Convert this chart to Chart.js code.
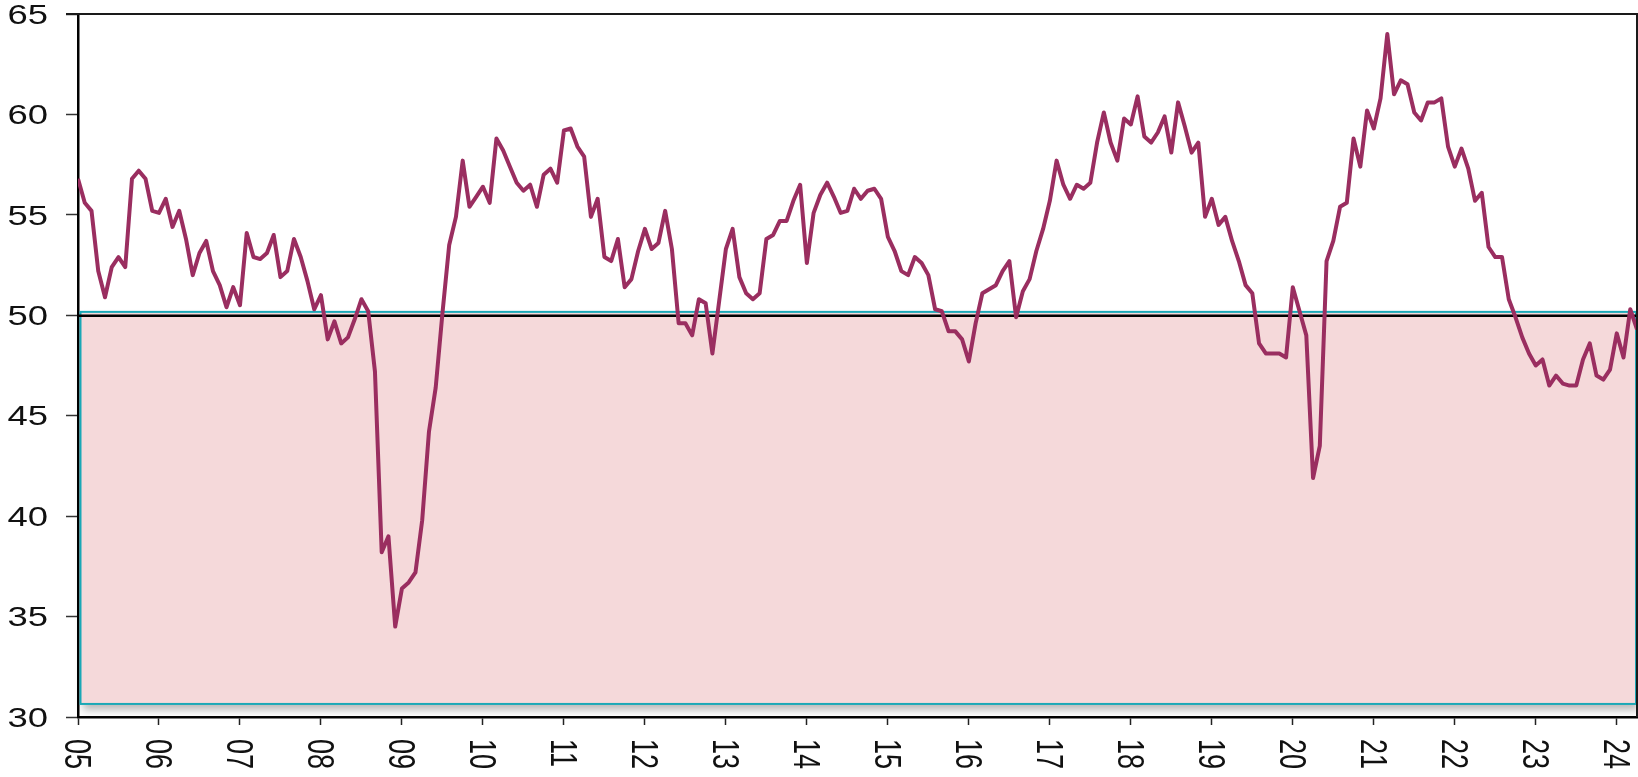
<!DOCTYPE html>
<html>
<head>
<meta charset="utf-8">
<script src="https://cdn.jsdelivr.net/npm/chart.js@4.4.1/dist/chart.umd.min.js"></script>
<style>
  html, body { margin: 0; padding: 0; background: #fff; }
  canvas { display: block; }
</style>
</head>
<body>
<canvas id="pmi" width="1638" height="777"></canvas>
<script>
// monthly index readings, Jan 2005 .. Apr 2024
const yearLabels = ["05", "06", "07", "08", "09", "10", "11", "12", "13", "14",
  "15", "16", "17", "18", "19", "20", "21", "22", "23", "24"]
const yTicks = [30, 35, 40, 45, 50, 55, 60, 65]
const threshold = 50
const contractionBand = [30.6, 50.12]

const pmi = [
  56.8, 55.6, 55.2, 52.2, 50.9, 52.4, 52.9, 52.4, 56.8, 57.2, 56.8, 55.2, // 2005
  55.1, 55.8, 54.4, 55.2, 53.8, 52.0, 53.1, 53.7, 52.2, 51.5, 50.4, 51.4, // 2006
  50.5, 54.1, 52.9, 52.8, 53.1, 54.0, 51.9, 52.2, 53.8, 52.9, 51.7, 50.3, // 2007
  51.0, 48.8, 49.7, 48.6, 48.9, 49.8, 50.8, 50.2, 47.2, 38.2, 39.0, 34.5, // 2008
  36.4, 36.7, 37.2, 39.8, 44.2, 46.4, 50.1, 53.5, 54.9, 57.7, 55.4, 55.9, // 2009
  56.4, 55.6, 58.8, 58.2, 57.4, 56.6, 56.2, 56.5, 55.4, 57.0, 57.3, 56.6, // 2010
  59.2, 59.3, 58.4, 57.9, 54.9, 55.8, 52.9, 52.7, 53.8, 51.4, 51.8, 53.2, // 2011
  54.3, 53.3, 53.6, 55.2, 53.3, 49.6, 49.6, 49.0, 50.8, 50.6, 48.1, 50.7, // 2012
  53.3, 54.3, 51.9, 51.1, 50.8, 51.1, 53.8, 54.0, 54.7, 54.7, 55.7, 56.5, // 2013
  52.6, 55.1, 56.0, 56.6, 55.9, 55.1, 55.2, 56.3, 55.8, 56.2, 56.3, 55.8, // 2014
  53.9, 53.2, 52.2, 52.0, 52.9, 52.6, 52.0, 50.3, 50.2, 49.2, 49.2, 48.8, // 2015
  47.7, 49.6, 51.1, 51.3, 51.5, 52.2, 52.7, 49.9, 51.2, 51.8, 53.2, 54.3, // 2016
  55.7, 57.7, 56.5, 55.8, 56.5, 56.3, 56.6, 58.6, 60.1, 58.6, 57.7, 59.8, // 2017
  59.5, 60.9, 58.9, 58.6, 59.1, 59.9, 58.1, 60.6, 59.4, 58.1, 58.6, 54.9, // 2018
  55.8, 54.5, 54.9, 53.7, 52.7, 51.5, 51.1, 48.6, 48.1, 48.1, 48.1, 47.9, // 2019
  51.4, 50.2, 49.0, 41.9, 43.5, 52.7, 53.7, 55.4, 55.6, 58.8, 57.4, 60.2, // 2020
  59.3, 60.8, 64.0, 61.0, 61.7, 61.5, 60.1, 59.7, 60.6, 60.6, 60.8, 58.4, // 2021
  57.4, 58.3, 57.3, 55.7, 56.1, 53.4, 52.9, 52.9, 50.8, 49.9, 48.9, 48.1, // 2022
  47.5, 47.8, 46.5, 47.0, 46.6, 46.5, 46.5, 47.8, 48.6, 47.0, 46.8, 47.3, // 2023
  49.1, 47.9, 50.3, 49.3                                                  // 2024
]

const labelFont = '27px "Liberation Sans", Arial, sans-serif'
const stretch = 1.35

// pink contraction box + the 50 line, under the series
const bandPlugin = {
  id: "band",
  beforeDatasetsDraw(chart) {
    const { ctx, scales: { x, y }, chartArea } = chart
    const left = x.getPixelForValue(0) + 2.5
    const right = x.getPixelForValue(pmi.length - 1) - 1
    const top = y.getPixelForValue(contractionBand[1])
    const bottom = y.getPixelForValue(contractionBand[0])

    ctx.save()
    ctx.shadowColor = "rgba(0, 0, 0, 0.28)"
    ctx.shadowBlur = 8
    ctx.shadowOffsetX = 2
    ctx.shadowOffsetY = 5
    ctx.fillStyle = "#f5d9da"
    ctx.fillRect(left, top, right - left, bottom - top)
    ctx.restore()

    ctx.save()
    ctx.strokeStyle = "#1aa8b6"
    ctx.lineWidth = 2
    ctx.strokeRect(left, top - 1, right - left, bottom - top)

    const y50 = y.getPixelForValue(threshold) + 0.5
    ctx.strokeStyle = "#000"
    ctx.lineWidth = 2.5
    ctx.beginPath()
    ctx.moveTo(chartArea.left, y50)
    ctx.lineTo(chartArea.right, y50)
    ctx.stroke()
    ctx.restore()
  },
}

// frame on top/right and the tick labels (x labels read top to bottom)
const framePlugin = {
  id: "frame",
  afterDraw(chart) {
    const { ctx, scales: { x, y }, chartArea } = chart
    ctx.save()
    ctx.strokeStyle = "#1a1a1a"
    ctx.lineWidth = 2
    ctx.beginPath()
    ctx.moveTo(y.right - 12, chartArea.top)
    ctx.lineTo(chartArea.right, chartArea.top)
    ctx.lineTo(chartArea.right, chartArea.bottom)
    ctx.stroke()

    ctx.fillStyle = "#111"
    ctx.font = labelFont
    ctx.textBaseline = "alphabetic"

    ctx.textAlign = "right"
    yTicks.forEach(v => {
      ctx.save()
      ctx.translate(y.right - 30, y.getPixelForValue(v))
      ctx.scale(stretch, 1)
      ctx.fillText(String(v), 0, 9.7)
      ctx.restore()
    })

    ctx.textAlign = "left"
    yearLabels.forEach((lab, k) => {
      ctx.save()
      ctx.translate(x.getPixelForValue(k * 12), x.top + 22)
      ctx.scale(stretch, 1)
      ctx.rotate(Math.PI / 2)
      ctx.fillText(lab, 0, 9.7)
      ctx.restore()
    })
    ctx.restore()
  },
}

new Chart(document.getElementById("pmi"), {
  type: "line",
  data: {
    datasets: [
      {
        data: pmi.map((v, i) => ({ x: i, y: v })),
        borderColor: "#9a2e60",
        borderWidth: 4,
        borderJoinStyle: "round",
        pointRadius: 0,
        tension: 0,
        fill: false,
      },
    ],
  },
  options: {
    responsive: false,
    animation: false,
    layout: { padding: { top: 14, right: 1, left: 0, bottom: 0 } },
    plugins: {
      legend: { display: false },
      tooltip: { enabled: false },
    },
    scales: {
      x: {
        type: "linear",
        min: 0,
        max: pmi.length - 1,
        afterBuildTicks: scale => {
          scale.ticks = yearLabels.map((_, k) => ({ value: k * 12 }))
        },
        afterFit: scale => {
          scale.height = 60
        },
        ticks: { display: false },
        grid: {
          drawOnChartArea: false,
          drawTicks: true,
          tickLength: 8,
          tickColor: "#222",
          tickWidth: 1.5,
        },
        border: { color: "#000", width: 2.5 },
      },
      y: {
        min: 30,
        max: 65,
        ticks: { display: false, stepSize: 5 },
        afterFit: scale => {
          scale.width = 78
        },
        grid: {
          drawOnChartArea: false,
          drawTicks: true,
          tickLength: 12,
          tickColor: "#333",
          tickWidth: 1.5,
        },
        border: { color: "#000", width: 2.5 },
      },
    },
  },
  plugins: [bandPlugin, framePlugin],
})
</script>
</body>
</html>
